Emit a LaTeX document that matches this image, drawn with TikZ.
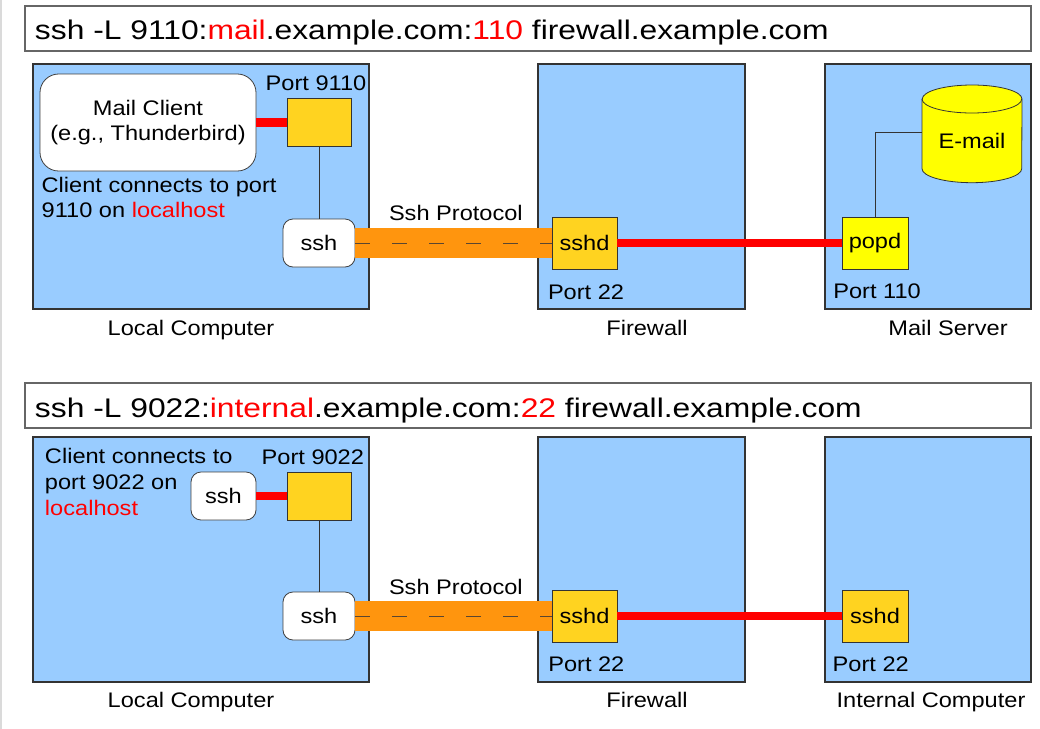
\documentclass[tikz,border=0pt]{standalone}
\usepackage{fontspec}
\setmainfont{Liberation Sans}[FakeStretch=1.12]
\newfontfamily\titlefont{Liberation Sans}[FakeStretch=1.18]
\usetikzlibrary{fit}
\definecolor{boxblue}{HTML}{99CCFF}
\definecolor{goldy}{HTML}{FFD320}
\definecolor{pureyellow}{HTML}{FFFF00}
\definecolor{tunnelorange}{HTML}{FF950E}
\definecolor{dashbrown}{HTML}{5A4630}
\definecolor{edgegray}{HTML}{DADADA}
\begin{document}
\begin{tikzpicture}[x=0.75pt,y=-0.75pt,
  every node/.style={inner sep=0pt, outer sep=0pt},
  sz/.style 2 args={minimum width=#1*0.75pt, minimum height=#2*0.75pt},
  titlebox/.style={draw=black!60, line width=1.2pt, fill=white},
  titletext/.style={anchor=base west, font=\titlefont\fontsize{20.2}{24}\selectfont},
  bluebox/.style={draw=black!80, line width=0.8pt, fill=boxblue},
  goldbox/.style={draw=black!80, line width=0.6pt, fill=goldy, font=\fontsize{15.8}{19}\selectfont},
  yellowbox/.style={draw=black!80, line width=0.6pt, fill=pureyellow, font=\fontsize{15.8}{19}\selectfont},
  whitebox/.style={draw=black!75, line width=0.6pt, fill=white, font=\fontsize{15.8}{19.3}\selectfont},
  lbl/.style={font=\fontsize{15.8}{18.45}\selectfont},
  lbltwo/.style={font=\fontsize{15.8}{19.7}\selectfont},
  redline/.style={draw=red, line width=6.2pt},
  tunnel/.style={draw=tunnelorange, line width=22.5pt},
  tunneldash/.style={draw=dashbrown, line width=0.75pt, dash pattern=on 11.25pt off 16.5pt},
  thinline/.style={draw=black!80, line width=0.6pt}
]
\useasboundingbox (0,0) rectangle (1040,729);
\fill[white] (0,0) rectangle (1040,729);
\draw[edgegray, line width=1.5pt] (1,0) -- (1,729);

% ---------------- top diagram ----------------
\node[titlebox, fit={(25,6) (1031,51)}] (t1) {};
\node[titletext] (t1text) at (35,39.3) {ssh -L 9110:\textcolor{red}{mail}.example.com:\textcolor{red}{110} firewall.example.com};

\node[bluebox, fit={(33,64) (369,309)}] (local1) {};
\node[bluebox, fit={(538,64) (745,309)}] (fw1) {};
\node[bluebox, fit={(825,64) (1031,309)}] (mail1) {};

\node[whitebox, rounded corners=14pt, sz={216}{97}, align=center] (client) at (148,122.5) {Mail Client\\(e.g., Thunderbird)};
\node[goldbox, sz={64}{48}] (p9110) at (319,122.5) {};
\node[lbl, anchor=base west] (p9110lbl) at (265.7,90.7) {Port 9110};
\node[whitebox, rounded corners=7.5pt, sz={72}{48}] (ssh1) at (319,243) {ssh};
\node[lbl, anchor=base west] (note1) at (41.7,192.7) {\begin{tabular}[t]{@{}l@{}}Client connects to port\\9110 on \textcolor{red}{localhost}\end{tabular}};

\node[goldbox, sz={65}{52}] (sshd1) at (584.5,243) {sshd};
\node[lbl, anchor=base west] (port22a) at (548,299) {Port 22};
\node[lbl, anchor=base west] (proto1) at (389,220.7) {Ssh Protocol};

\node[yellowbox, sz={66}{52}] (popd) at (875,243) {popd};
\node[lbl, anchor=base west] (port110) at (833.3,298) {Port 110};

% E-mail cylinder
\filldraw[fill=pureyellow, draw=black!80, line width=0.6pt]
  (922,99) -- (922,168.7) arc[start angle=180, end angle=360, x radius=37.4pt, y radius=10.5pt]
  -- (1022,99) arc[start angle=0, end angle=180, x radius=37.4pt, y radius=10.5pt] -- cycle;
\draw[black!80, line width=0.6pt] (922,99) arc[start angle=180, end angle=360, x radius=37.4pt, y radius=10.5pt];
\node[lbl] (email) at (972,141.3) {E-mail};
\coordinate (emailL) at (922,132.7);

\draw[redline] (client.east) -- (client.east -| p9110.west);
\draw[thinline] (p9110.south) -- (ssh1.north);
\draw[tunnel] (ssh1.east) -- (sshd1.west);
\draw[tunneldash] (ssh1.east) -- (sshd1.west);
\draw[redline] (sshd1.east) -- (popd.west);
\draw[thinline] (popd.north) |- (emailL);

\node[lbl, anchor=base] (lc1) at (191,335) {Local Computer};
\node[lbl, anchor=base] (fwl1) at (647,335) {Firewall};
\node[lbl, anchor=base] (ms1) at (948,335) {Mail Server};

% ---------------- bottom diagram ----------------
\node[titlebox, fit={(25,383) (1031,428)}] (t2) {};
\node[titletext] (t2text) at (35,417) {ssh -L 9022:\textcolor{red}{internal}.example.com:\textcolor{red}{22} firewall.example.com};

\node[bluebox, fit={(33,437) (369,682)}] (local2) {};
\node[bluebox, fit={(538,437) (745,682)}] (fw2) {};
\node[bluebox, fit={(825,437) (1031,682)}] (int2) {};

\node[lbltwo, anchor=base west] (note2) at (45,463.3) {\begin{tabular}[t]{@{}l@{}}Client connects to\\port 9022 on\\\textcolor{red}{localhost}\end{tabular}};
\node[whitebox, rounded corners=7.5pt, sz={65}{48}] (sshc) at (223.5,496) {ssh};
\node[goldbox, sz={64}{48}] (p9022) at (319,496) {};
\node[lbl, anchor=base west] (p9022lbl) at (261.7,464.3) {Port 9022};
\node[whitebox, rounded corners=7.5pt, sz={72}{48}] (ssh2) at (319,616) {ssh};

\node[goldbox, sz={65}{52}] (sshd2) at (584.5,616) {sshd};
\node[lbl, anchor=base west] (port22b) at (548.3,671) {Port 22};
\node[lbl, anchor=base west] (proto2) at (389,594) {Ssh Protocol};

\node[goldbox, sz={66}{52}] (sshd3) at (875,616) {sshd};
\node[lbl, anchor=base west] (port22c) at (832.7,671) {Port 22};

\draw[redline] (sshc.east) -- (sshc.east -| p9022.west);
\draw[thinline] (p9022.south) -- (ssh2.north);
\draw[tunnel] (ssh2.east) -- (sshd2.west);
\draw[tunneldash] (ssh2.east) -- (sshd2.west);
\draw[redline] (sshd2.east) -- (sshd3.west);

\node[lbl, anchor=base] (lc2) at (191,707) {Local Computer};
\node[lbl, anchor=base] (fwl2) at (647,707) {Firewall};
\node[lbl, anchor=base] (ic2) at (931,707) {Internal Computer};
\end{tikzpicture}
\end{document}
